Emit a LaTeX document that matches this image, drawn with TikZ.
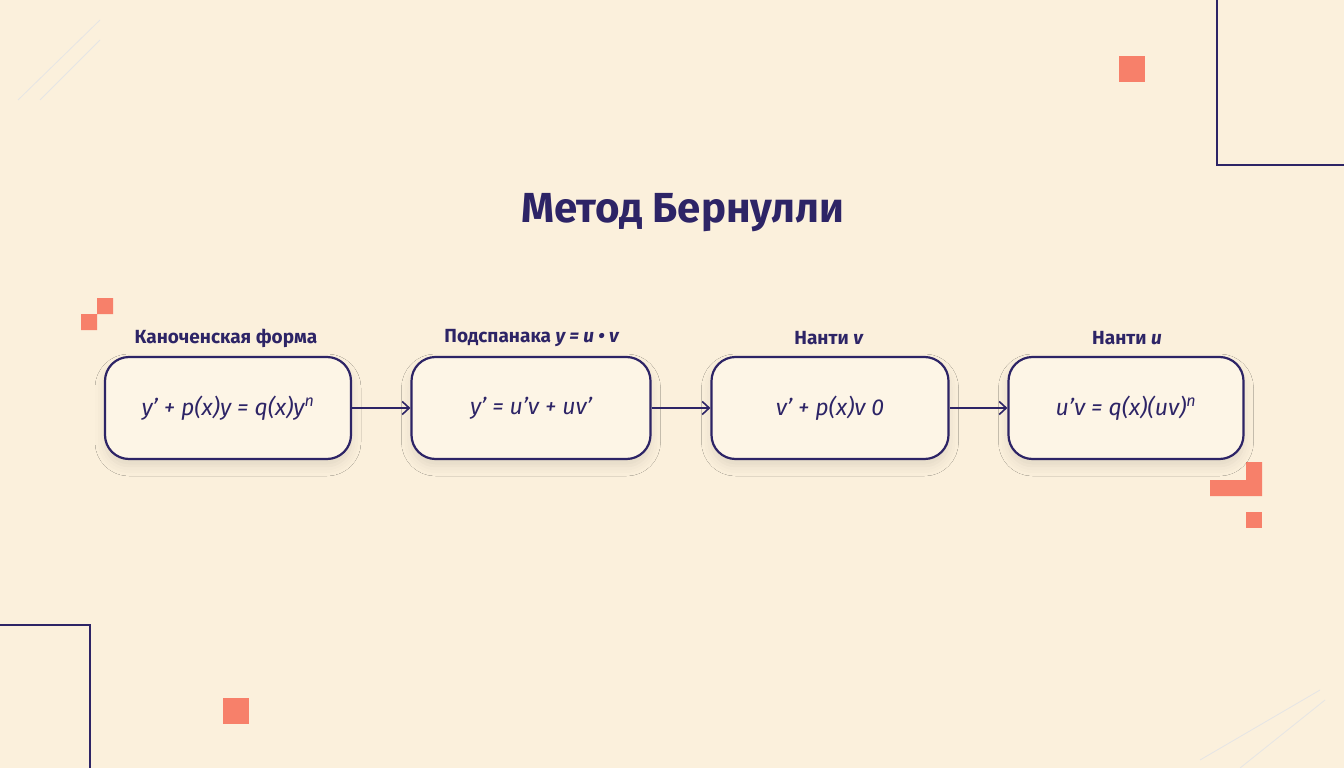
\documentclass[tikz,border=0pt]{standalone}
\usepackage{fontspec}
\setmainfont{Fira Sans}
\usetikzlibrary{arrows.meta,shadows.blur}
\definecolor{bg}{HTML}{FBF0DC}
\definecolor{navy}{HTML}{2D2466}
\definecolor{accent}{HTML}{F7806A}
\definecolor{boxfill}{HTML}{FDF5E6}
\begin{document}
\begin{tikzpicture}[x=1pt,y=-1pt,
  box/.style={draw=navy,line width=2.2pt,rounded corners=24pt,fill=boxfill,minimum height=102pt,
    blur shadow={shadow xshift=0pt,shadow yshift=-7pt,shadow blur radius=10pt,shadow opacity=10},font=\fontsize{23}{26}\selectfont\itshape,text=navy},
  lab/.style={font=\fontsize{19}{22}\selectfont\bfseries,text=navy},
  arr/.style={draw=navy,line width=1.6pt,-{Straight Barb[length=7pt,width=13pt]}},
  sq/.style={fill=accent},
  deco/.style={draw=navy,line width=1.2pt}]
\fill[bg] (0,0) rectangle (1344,768);
\useasboundingbox (0,0) rectangle (1344,768);
\draw[black!10,line width=0.8pt] (18,100) -- (100,20) (40,100)--(100,40);
\draw[black!10,line width=0.8pt] (1200,760) -- (1320,690) (1240,768)--(1325,700);
\draw[deco] (1217,0) -- (1217,165) -- (1344,165);
\draw[deco] (0,625) -- (90,625) -- (90,768);
\fill[sq] (1119,56) rectangle (1145,82);
\fill[sq] (223,698) rectangle (249,724);
\fill[sq] (1246,512) rectangle (1262,528);
\fill[sq] (1246,462) rectangle (1262,496) (1210,480) rectangle (1262,496);
\fill[sq] (97,298) rectangle (113,314) (81,314) rectangle (97,330);
\node[font=\fontsize{42}{48}\selectfont\bfseries,text=navy] (title) at (683,213) {Метод Бернулли};
\node[box,minimum width=246pt] (b1) at (228,408) {y’ + p(x)y = q(x)y\textsuperscript{n}};
\node[box,minimum width=239pt] (b2) at (531,408) {y’ = u’v + uv’};
\node[box,minimum width=237pt] (b3) at (830,408) {v’ + p(x)v 0};
\node[box,minimum width=235pt] (b4) at (1126,408) {u’v = q(x)(uv)\textsuperscript{n}};
\node[lab] (l1) at (226,338) {Каноченская форма};
\node[lab] (l2) at (532,338) {Подспанака \textit{y = u • v}};
\node[lab] (l3) at (829,338) {Нанти \textit{v}};
\node[lab] (l4) at (1127,338) {Нанти \textit{u}};
\draw[arr] (b1.east) -- (b2.west);
\draw[arr] (b2.east) -- (b3.west);
\draw[arr] (b3.east) -- (b4.west);
\end{tikzpicture}
\end{document}
